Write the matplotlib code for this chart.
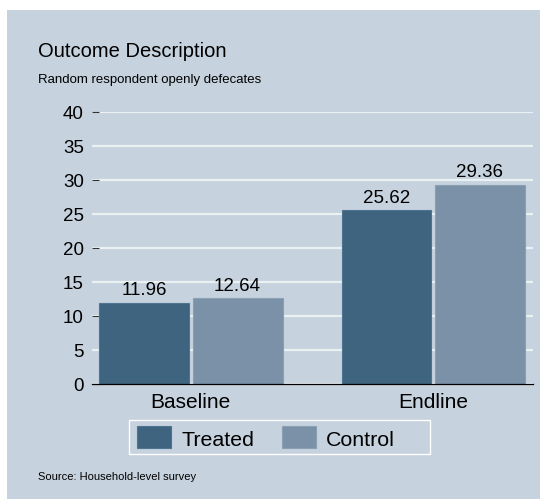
import numpy as np
import matplotlib
matplotlib.use('Agg')
from matplotlib import pyplot as plt
from matplotlib.patches import Rectangle

# Share openly defecating, by survey round and arm.
rounds = ['Baseline', 'Endline']
treated = [11.96, 25.62]
control = [12.64, 29.36]
arms = ['Treated', 'Control']
y_ticks = [0, 5, 10, 15, 20, 25, 30, 35, 40]

TREATED_COLOR = '#3f6480'
CONTROL_COLOR = '#7b91a8'
TREATED_EDGE = '#4f7490'
CONTROL_EDGE = '#8aa0b5'
PANEL_COLOR = '#c6d2de'
GRID_COLOR = '#eaf1f3'

W, H = 540, 499


def fx(px):
    return px / W


def fy(py):
    return 1 - py / H


def main():
    plt.rcParams['font.family'] = ['Liberation Sans', 'DejaVu Sans']

    fig = plt.figure(figsize=(W / 100, H / 100), dpi=100)
    fig.patch.set_facecolor('white')
    # Shaded graph region behind everything.
    fig.patches.append(Rectangle((fx(7), 0), 1 - fx(7), fy(10), transform=fig.transFigure,
                                 facecolor=PANEL_COLOR, edgecolor='none', zorder=-10))

    ax = fig.add_axes([fx(92), fy(384.3), fx(533) - fx(92), fy(112.3) - fy(384.3)])
    ax.set_facecolor('none')

    x = np.arange(len(rounds))
    width = 0.371
    gap = 0.0144
    b1 = ax.bar(x - (width + gap) / 2, treated, width, color=TREATED_COLOR,
                edgecolor=TREATED_EDGE, linewidth=0.8, zorder=3)
    b2 = ax.bar(x + (width + gap) / 2, control, width, color=CONTROL_COLOR,
                edgecolor=CONTROL_EDGE, linewidth=0.8, zorder=3)

    for bars, vals in ((b1, treated), (b2, control)):
        for bar, v in zip(bars, vals):
            ax.annotate('%.2f' % v, (bar.get_x() + bar.get_width() / 2, v),
                        xytext=(0, 2.5), textcoords='offset points',
                        ha='center', va='bottom', fontsize=13.5)

    ax.set_xlim(-0.408, 1.412)
    ax.set_ylim(0, 40)
    ax.set_yticks(y_ticks)
    ax.set_xticks(x)
    ax.set_xticklabels(rounds, fontsize=15)
    ax.tick_params(axis='x', length=0, pad=6.3)
    ax.tick_params(axis='y', direction='in', length=5.2, width=0.8, pad=5.8,
                   labelsize=13.5, color='#333333')
    # Only the multiples of ten carry a visible tick mark.
    for val, tick in zip(y_ticks, ax.yaxis.get_major_ticks()):
        if val % 10:
            tick.tick1line.set_visible(False)

    ax.yaxis.grid(True, color=GRID_COLOR, linewidth=1.6, zorder=1)
    ax.set_axisbelow(True)
    for side in ('top', 'right', 'left'):
        ax.spines[side].set_visible(False)
    ax.spines['bottom'].set_color('black')
    ax.spines['bottom'].set_linewidth(0.9)
    ax.spines['bottom'].set_zorder(4)

    fig.text(fx(38), fy(57), 'Outcome Description', fontsize=14.5, va='baseline', ha='left')
    fig.text(fx(38), fy(83), 'Random respondent openly defecates', fontsize=9.5,
             va='baseline', ha='left')
    fig.text(fx(38), fy(479.5), 'Source: Household-level survey', fontsize=8,
             va='baseline', ha='left')

    # Legend box drawn by hand so the key sizes and spacing can be set exactly.
    fig.patches.append(Rectangle((fx(129), fy(454)), fx(430) - fx(129), fy(420) - fy(454),
                                 transform=fig.transFigure, facecolor=PANEL_COLOR,
                                 edgecolor='white', linewidth=1.0, zorder=5))
    key_left = [137, 282]
    text_left = [181, 326]
    for name, col, edge, kx, tx in zip(arms, [TREATED_COLOR, CONTROL_COLOR],
                                        [TREATED_EDGE, CONTROL_EDGE], key_left, text_left):
        fig.patches.append(Rectangle((fx(kx), fy(448)), fx(34), fy(426) - fy(448),
                                     transform=fig.transFigure, facecolor=col,
                                     edgecolor=edge, linewidth=0.8, zorder=6))
        fig.text(fx(tx), fy(446), name, fontsize=15.4, va='baseline', ha='left', zorder=7)

    fig.savefig('out.png', dpi=100, facecolor=fig.get_facecolor())


if __name__ == '__main__':
    main()
